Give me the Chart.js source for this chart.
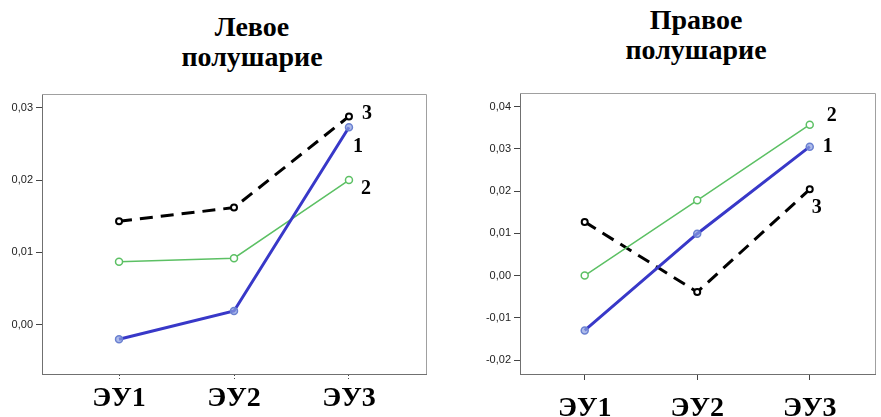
<!DOCTYPE html>
<html>
<head>
<meta charset="utf-8">
<script src="https://cdn.jsdelivr.net/npm/chart.js@4.4.0/dist/chart.umd.min.js"></script>
<style>
  body { margin: 0; background: #fff; }
  #wrap { position: relative; width: 881px; height: 417px; overflow: hidden; }
  .title { position: absolute; width: 240px; text-align: center; font: bold 28px "Liberation Serif", serif; line-height: 30px; color: #000; }
  canvas { position: absolute; top: 0; }
</style>
</head>
<body>
<div id="wrap">
  <div class="title" style="left:132px; top:12px;">Левое<br>полушарие</div>
  <div class="title" style="left:576px; top:5px;">Правое<br>полушарие</div>
  <canvas id="left" width="440" height="417" style="left:0"></canvas>
  <canvas id="right" width="421" height="417" style="left:460px"></canvas>
</div>
<script>
// категории и значения
const categories = ['ЭУ1', 'ЭУ2', 'ЭУ3'];

const leftSeries1 = [-0.0020, 0.0019, 0.0273];
const leftSeries2 = [0.0087, 0.0092, 0.0200];
const leftSeries3 = [0.0143, 0.0162, 0.0288];
const leftTicks = [0, 0.01, 0.02, 0.03];

const rightSeries1 = [-0.0130, 0.0099, 0.0305];
const rightSeries2 = [0.0000, 0.0178, 0.0357];
const rightSeries3 = [0.0127, -0.0039, 0.0204];
const rightTicks = [-0.02, -0.01, 0, 0.01, 0.02, 0.03, 0.04];

const seriesNames = ['1', '2', '3'];

// рамка вокруг области графика
const framePlugin = {
    id: 'frame',
    beforeDatasetsDraw(chart) {
        const a = chart.chartArea;
        const ctx = chart.ctx;
        ctx.save();
        ctx.strokeStyle = '#a0a0a0';
        ctx.lineWidth = 1;
        ctx.beginPath();
        ctx.moveTo(a.left, a.top + 0.5);
        ctx.lineTo(a.right + 0.5, a.top + 0.5);
        ctx.lineTo(a.right + 0.5, a.bottom);
        ctx.stroke();
        ctx.restore();
    }
};

// подписи 1, 2, 3 возле последней точки
const seriesLabelPlugin = {
    id: 'seriesLabels',
    afterDatasetsDraw(chart) {
        const ctx = chart.ctx;
        ctx.save();
        ctx.font = 'bold 20px "Liberation Serif", serif';
        ctx.fillStyle = '#000';
        ctx.textAlign = 'center';
        ctx.textBaseline = 'middle';
        chart.data.datasets.forEach((ds, i) => {
            const meta = chart.getDatasetMeta(i);
            const pt = meta.data[meta.data.length - 1];
            const off = ds.labelOffset;
            ctx.fillText(ds.label, pt.x + off[0], pt.y + off[1]);
        });
        ctx.restore();
    }
};

function toPoints(values) {
    return values.map((v, i) => ({ x: i, y: v }));
}

function fmt(v) {
    return v.toFixed(2).replace('.', ',');
}

function makeChart(id, series, ticks, cfg) {
    const ctx = document.getElementById(id).getContext('2d');
    new Chart(ctx, {
        type: 'line',
        data: {
            datasets: [
                {
                    label: seriesNames[0],
                    data: toPoints(series[0]),
                    borderColor: '#3838c8',
                    borderWidth: 3,
                    pointRadius: 3.5,
                    pointBackgroundColor: 'rgba(140,160,225,0.7)',
                    pointBorderColor: '#6a80d0',
                    pointBorderWidth: 1.5,
                    labelOffset: cfg.offsets[0]
                },
                {
                    label: seriesNames[1],
                    data: toPoints(series[1]),
                    borderColor: '#5cc064',
                    borderWidth: 1.5,
                    pointRadius: 3.5,
                    pointBackgroundColor: '#fff',
                    pointBorderColor: '#5cc064',
                    pointBorderWidth: 1.5,
                    labelOffset: cfg.offsets[1]
                },
                {
                    label: seriesNames[2],
                    data: toPoints(series[2]),
                    borderColor: '#000',
                    borderWidth: 3,
                    borderDash: [13, 8],
                    pointRadius: 3,
                    pointBackgroundColor: '#fff',
                    pointBorderColor: '#000',
                    pointBorderWidth: 2,
                    labelOffset: cfg.offsets[2]
                }
            ]
        },
        options: {
            responsive: false,
            animation: false,
            layout: { padding: { top: cfg.top, right: cfg.right, left: 0, bottom: 0 } },
            plugins: { legend: { display: false }, tooltip: { enabled: false } },
            scales: {
                x: {
                    type: 'linear',
                    min: cfg.xmin,
                    max: cfg.xmax,
                    afterBuildTicks: s => { s.ticks = categories.map((c, i) => ({ value: i })); },
                    afterFit: s => { s.height = 43; },
                    ticks: {
                        callback: v => categories[v],
                        font: { family: '"Liberation Serif", serif', size: 28, weight: 'bold' },
                        color: '#000',
                        padding: cfg.xpad,
                        maxRotation: 0
                    },
                    grid: {
                        drawOnChartArea: false,
                        tickLength: 6,
                        tickColor: '#444',
                        tickBorderDash: cfg.tickDash,
                        tickWidth: 1
                    },
                    border: { color: '#707070', width: 1 }
                },
                y: {
                    min: cfg.ymin,
                    max: cfg.ymax,
                    afterBuildTicks: s => { s.ticks = ticks.map(v => ({ value: v })); },
                    afterFit: s => { s.width = cfg.yw; },
                    ticks: {
                        callback: v => fmt(v),
                        font: { family: '"Liberation Sans", Arial, sans-serif', size: 11 },
                        color: '#222',
                        padding: 3
                    },
                    grid: { drawOnChartArea: false, tickLength: 6, tickColor: '#444' },
                    border: { color: '#707070', width: 1 }
                }
            }
        },
        plugins: [framePlugin, seriesLabelPlugin]
    });
}

makeChart('left', [leftSeries1, leftSeries2, leftSeries3], leftTicks, {
    top: 94, right: 14, yw: 42,
    xmin: -0.67, xmax: 2.67,
    ymin: -0.0068, ymax: 0.0319,
    xpad: 2, tickDash: [1, 2],
    offsets: [[9, 20], [17, 9], [18, -3]]
});

makeChart('right', [rightSeries1, rightSeries2, rightSeries3], rightTicks, {
    top: 93, right: 0, yw: 60,
    xmin: -0.575, xmax: 2.58,
    ymin: -0.0233, ymax: 0.0432,
    xpad: 12, tickDash: [],
    offsets: [[18, 0], [22, -9], [7, 18]]
});
</script>
</body>
</html>
